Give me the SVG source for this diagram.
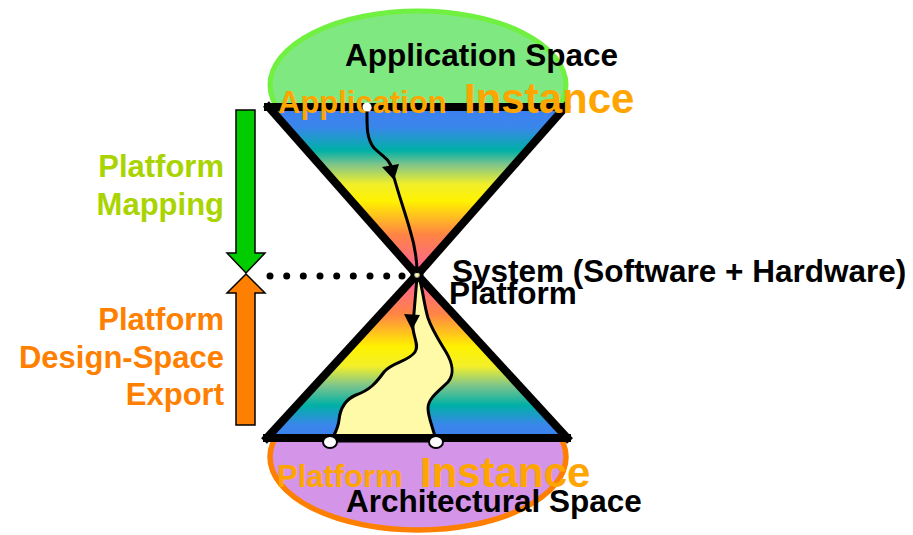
<svg xmlns="http://www.w3.org/2000/svg" width="913" height="535" viewBox="0 0 913 535">
  <defs>
    <linearGradient id="gradTop" x1="0" y1="107" x2="0" y2="275" gradientUnits="userSpaceOnUse">
      <stop offset="0" stop-color="#3d7ff2"/>
      <stop offset="0.12" stop-color="#3a86ea"/>
      <stop offset="0.26" stop-color="#00b0a6"/>
      <stop offset="0.34" stop-color="#7cc48c"/>
      <stop offset="0.46" stop-color="#f2ef2a"/>
      <stop offset="0.56" stop-color="#fff200"/>
      <stop offset="0.76" stop-color="#ff8444"/>
      <stop offset="1" stop-color="#ff5fa0"/>
    </linearGradient>
    <linearGradient id="gradBottom" x1="0" y1="275" x2="0" y2="438" gradientUnits="userSpaceOnUse">
      <stop offset="0" stop-color="#ff5fa0"/>
      <stop offset="0.24" stop-color="#ff8444"/>
      <stop offset="0.44" stop-color="#fff200"/>
      <stop offset="0.56" stop-color="#f2ef2a"/>
      <stop offset="0.68" stop-color="#7cc48c"/>
      <stop offset="0.8" stop-color="#00b0a6"/>
      <stop offset="0.92" stop-color="#3a86ea"/>
      <stop offset="1" stop-color="#3d7ff2"/>
    </linearGradient>
  </defs>
  <style>
    text { font-family: "Liberation Sans", Arial, sans-serif; font-weight: bold; }
    .lbl { font-size: 31.5px; fill: #000; }
    .inst-s { font-size: 31px; fill: #ffa500; }
    .inst-l { font-size: 42px; fill: #ffa500; }
    .map { font-size: 31px; fill: #a9d400; text-anchor: end; }
    .exp { font-size: 31px; fill: #ff8000; text-anchor: end; }
    .edge { stroke: #000; stroke-width: 8; fill: none; }
    .flow { stroke: #000; stroke-width: 3; fill: none; }
    .head { fill: #000; }
    .dot { fill: #000; }
  </style>

  <!-- application space (top ellipse) -->
  <g id="application-space">
    <ellipse cx="418" cy="85" rx="148" ry="74" fill="#80e880" stroke="#70f040" stroke-width="5"/>
    <text class="lbl" x="345" y="66">Application Space</text>
  </g>

  <!-- architectural space (bottom ellipse) -->
  <g id="architectural-space">
    <ellipse cx="418" cy="457" rx="148" ry="73" fill="#d494e8" stroke="#ff7f00" stroke-width="5.5"/>
  </g>

  <!-- application cone -->
  <g id="application-cone">
    <polygon points="268,107 566,107 417,275" fill="url(#gradTop)"/>
    <line class="edge" x1="264" y1="107" x2="570" y2="107"/>
    <line class="edge" x1="266" y1="104" x2="423" y2="282"/>
    <line class="edge" x1="568" y1="104" x2="411" y2="282"/>
  </g>

  <!-- platform cone -->
  <g id="platform-cone">
    <polygon points="417,275 267,438 567,438" fill="url(#gradBottom)"/>
    <path d="M417,277 L413,325 C412,335 420,345 415,352 C408,362 392,362 384,372 C376,383 370,390 356,395 C344,400 340,410 339,420 C338,430 333,436 331,441 L436,441 C434,430 428,418 428,408 C428,398 440,390 448,382 C455,374 452,362 446,352 C440,342 432,330 428,318 C424,305 423,290 419,277 Z" fill="#fffaa8" stroke="#000" stroke-width="3"/>
    <line class="edge" x1="263" y1="438" x2="571" y2="438"/>
    <line class="edge" x1="264" y1="441" x2="422" y2="269"/>
    <line class="edge" x1="570" y1="441" x2="412" y2="269"/>
  </g>

  <!-- instance labels -->
  <g id="application-instance">
    <text class="inst-s" x="278" y="113">Application</text>
    <text class="inst-l" x="464" y="113">Instance</text>
  </g>
  <g id="platform-instance">
    <text class="inst-s" x="277" y="487">Platform</text>
    <text class="inst-l" x="420" y="487">Instance</text>
    <text class="lbl" x="346" y="512">Architectural Space</text>
  </g>

  <!-- platform point -->
  <g id="platform">
    <circle cx="417" cy="275" r="6.5" fill="#000"/>
    <circle cx="417" cy="275" r="2.5" fill="#fffaa8" stroke="#888" stroke-width="1"/>
    <text class="lbl" x="452" y="282">System (Software + Hardware)</text>
    <text class="lbl" x="449" y="304">Platform</text>
  </g>

  <!-- side arrows -->
  <g id="platform-mapping">
    <polygon points="236,110 255,110 255,253 265,253 246,273 227,253 236,253" fill="#00cc00" stroke="#000" stroke-width="1.5" stroke-linejoin="miter"/>
    <text class="map" x="224" y="177">Platform</text>
    <text class="map" x="224" y="215">Mapping</text>
  </g>
  <g id="design-space-export">
    <polygon points="246,274 265,293 255,293 255,425 236,425 236,293 227,293" fill="#ff7f00" stroke="#000" stroke-width="1.5" stroke-linejoin="miter"/>
    <text class="exp" x="224" y="330">Platform</text>
    <text class="exp" x="224" y="368">Design-Space</text>
    <text class="exp" x="224" y="405">Export</text>
  </g>

  <!-- connectors -->
  <g id="connectors">
    <g id="dotted-link">
      <circle class="dot" cx="270" cy="276" r="3.5"/>
      <circle class="dot" cx="286.7" cy="276" r="3.5"/>
      <circle class="dot" cx="303.3" cy="276" r="3.5"/>
      <circle class="dot" cx="320" cy="276" r="3.5"/>
      <circle class="dot" cx="336.7" cy="276" r="3.5"/>
      <circle class="dot" cx="353.3" cy="276" r="3.5"/>
      <circle class="dot" cx="370" cy="276" r="3.5"/>
      <circle class="dot" cx="386.7" cy="276" r="3.5"/>
      <circle class="dot" cx="402" cy="276" r="3.5"/>
    </g>
    <g id="mapping-flow">
      <path class="flow" d="M367,107 C367,125 366,138 374,148 C382,156 391,160 392,170 C397,190 405,212 410,230 C415,246 417,260 417,273"/>
      <polygon class="head" points="382,167 399,164 394,180"/>
      <circle cx="367" cy="107" r="4.5" fill="#fff"/>
    </g>
    <g id="export-flow">
      <polygon class="head" points="404,314 420,315 412,330"/>
      <ellipse cx="330" cy="442" rx="7" ry="6" fill="#fff" stroke="#000" stroke-width="2"/>
      <ellipse cx="436" cy="442" rx="7" ry="6" fill="#fff" stroke="#000" stroke-width="2"/>
    </g>
  </g>
</svg>
